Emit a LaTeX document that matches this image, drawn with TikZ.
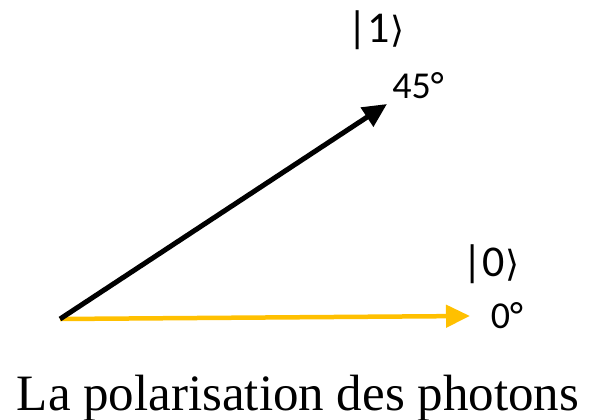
\documentclass[tikz,border=0pt]{standalone}
\usepackage{fontspec}
\setmainfont{Liberation Serif}
\newfontfamily\carlito{Carlito}
\newfontfamily\dejavu{DejaVu Sans}
\usetikzlibrary{arrows.meta}
\definecolor{gold}{HTML}{FFC000}
\tikzset{
  vec/.style={line width=5pt, -{Triangle[length=24pt,width=22pt]}},
  lbl/.style={inner sep=0pt, font=\carlito\fontsize{38}{38}\selectfont},
  ket/.style={inner sep=0pt, font=\carlito\fontsize{44}{44}\selectfont},
}
\newcommand{\myket}[1]{|#1{\dejavu\fontsize{36}{36}\selectfont ⟩}}
\begin{document}
\begin{tikzpicture}[x=1pt,y=-1pt]
\useasboundingbox (0,0) rectangle (594,420);
\coordinate (o) at (60,319);
\coordinate (p1) at (387,104);
\coordinate (p0) at (470,316);
\draw[vec, gold, line width=4.5pt] (o) -- (p0);
\draw[vec, black] (o) -- (p1);
\node[ket] (k1) at (376,30) {\myket{1}};
\node[lbl] (a45) at (418,86) {45°};
\node[ket] (k0) at (491,264) {\myket{0}};
\node[lbl] (a0) at (507,316) {0°};
\node[inner sep=0pt, anchor=base, font=\fontsize{51}{51}\selectfont] (cap) at (298,410) {La polarisation des photons};
\end{tikzpicture}
\end{document}
